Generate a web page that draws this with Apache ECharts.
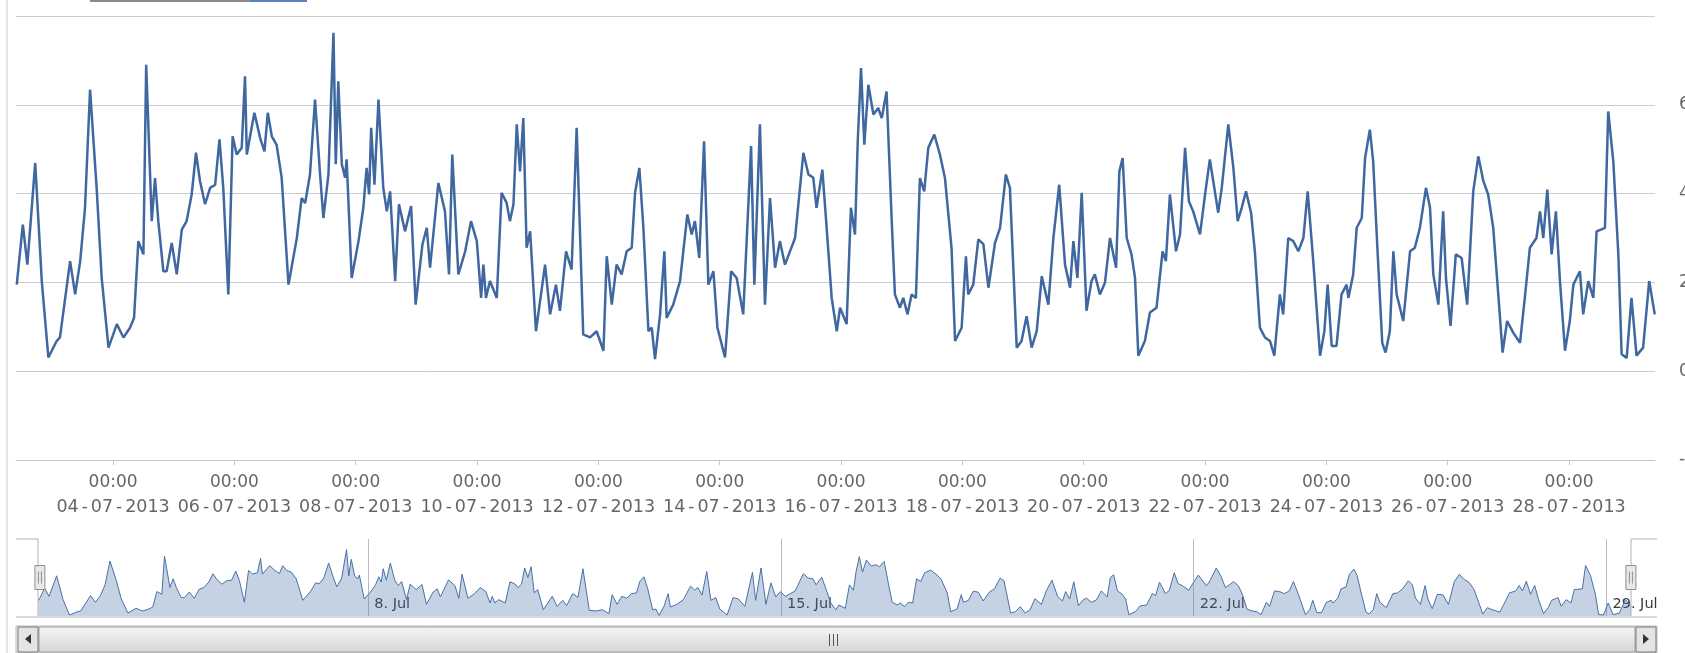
<!DOCTYPE html>
<html>
<head>
<meta charset="utf-8">
<title>Juli 2013</title>
<script src="https://cdn.jsdelivr.net/npm/echarts@6.0.0/dist/echarts.min.js"></script>
<style>
  html, body { margin: 0; padding: 0; background: #fff; }
  #chart { width: 1685px; height: 653px; }
</style>
</head>
<body>
<div id="chart"></div>
<script>
// x = hours since 02-07-2013 00:00, y = reading
const jul02to06 = [
  [9.9, 19.5], [12.3, 33], [14.1, 24], [17.2, 46.9], [19.8, 20.3], [22.4, 3.1], [25.7, 6.8], [27.0, 7.6],
  [31.0, 24.8], [33.0, 17.3], [35.0, 24.8], [36.9, 36.8], [38.9, 63.4], [41.5, 41.3], [43.5, 21], [46.2, 5.3],
  [49.5, 10.6], [52.1, 7.6], [54.7, 9.8], [56.3, 12], [58.0, 29.3], [60.0, 26.3], [61.1, 69], [63.3, 33.8],
  [64.6, 43.5], [65.9, 33.8], [67.9, 22.5], [69.2, 22.5], [71.2, 28.9], [73.2, 21.8], [75.2, 31.9], [77.1, 33.8],
  [79.1, 39.8], [80.8, 49.2], [82.4, 42.8], [84.4, 37.6], [86.4, 41.3], [88.4, 42], [90.1, 52.2], [91.6, 41.3],
  [93.6, 17.3], [95.3, 52.9], [96.9, 48.8], [98.9, 50.3], [100.2, 66.4]
]
const jul06to10 = [
  [100.9, 48.8], [103.9, 58.2], [106.2, 52.5], [107.9, 49.5], [109.2, 58.2], [110.8, 52.9], [112.7, 51], [114.7, 43.6],
  [117.4, 19.5], [120.7, 30], [122.6, 39], [124.0, 37.9], [125.9, 44.3], [127.9, 61.2], [129.9, 44.3], [131.2, 34.5],
  [133.2, 44.3], [135.2, 76.2], [136.1, 46.6], [137.1, 65.3], [138.5, 46.6], [139.8, 43.6], [140.4, 47.7], [142.4, 21],
  [145.1, 29.3], [147.0, 36.8], [148.3, 45.8], [149.3, 39.8], [150.1, 54.8], [151.4, 42], [153.0, 61.2], [154.9, 41.3],
  [156.3, 36], [157.6, 40.5], [159.6, 20.3], [161.1, 37.6], [163.5, 31.5], [165.9, 37.2], [167.7, 15], [170.4, 28.6],
  [172.1, 32.3], [173.4, 23.3], [176.7, 42.4], [179.3, 36], [180.9, 21.8], [182.2, 48.8], [184.6, 21.8], [187.3, 27],
  [189.6, 33.8], [191.9, 29.3], [193.6, 16.5]
]
const jul10to13 = [
  [194.5, 24], [195.5, 16.5], [197.1, 20.3], [199.8, 16.5], [201.7, 40.2], [203.7, 37.9], [205.0, 33.8], [206.4, 37.6],
  [207.7, 55.6], [209.0, 45], [210.3, 57], [211.6, 27.8], [213.0, 31.5], [215.3, 9], [218.9, 24], [220.9, 12.8],
  [223.2, 19.5], [224.8, 13.6], [227.2, 27], [229.4, 22.9], [231.4, 54.8], [234.0, 8.3], [236.7, 7.6], [239.3, 9],
  [242.0, 4.6], [243.3, 25.9], [245.3, 15], [247.2, 24], [249.2, 21.8], [251.2, 27], [253.2, 27.8], [254.5, 40.2],
  [256.2, 45.8], [257.8, 32.3], [259.8, 9], [261.1, 9.8], [262.4, 2.7], [264.4, 12.8], [266.1, 27], [267.0, 12],
  [269.6, 15], [272.3, 20.3], [275.2, 35.3], [276.9, 30.8], [278.2, 33.8], [279.9, 25.5], [281.8, 51.8], [283.5, 19.5],
  [285.5, 22.5], [287.1, 9.8]
]
const jul14to17 = [
  [290.1, 3.1], [292.5, 22.5], [294.7, 21], [297.3, 12.8], [300.4, 50.7], [301.7, 19.5], [303.9, 55.6], [305.9, 15],
  [307.9, 39], [309.9, 23.3], [311.8, 29.3], [313.8, 24], [315.8, 27], [317.8, 30], [321.1, 49.2], [323.1, 44.3],
  [325.0, 43.6], [326.3, 36.8], [328.6, 45.4], [330.3, 32.3], [332.3, 16.5], [334.3, 9], [335.6, 14.3], [338.2, 10.6],
  [339.9, 36.8], [341.5, 30.8], [342.6, 51.8], [343.9, 68.3], [345.2, 51], [346.8, 64.5], [348.8, 57.8], [350.7, 59.3],
  [352.1, 57], [354.0, 63], [356.0, 34.5], [357.3, 17.3], [359.3, 14.3], [360.6, 16.5], [362.3, 12.8], [363.9, 17.3],
  [365.6, 16.5], [367.2, 43.5], [368.9, 40.5], [370.5, 50.3], [372.9, 53.3], [375.1, 48.8], [377.1, 43.5], [379.7, 27.8]
]
const jul17to21 = [
  [381.1, 6.8], [383.7, 9.8], [385.4, 25.9], [386.3, 17.3], [388.3, 19.5], [390.3, 29.7], [392.3, 28.6], [394.3, 18.8],
  [396.9, 28.9], [398.9, 32.3], [401.2, 44.3], [402.8, 41.3], [405.5, 5.3], [407.4, 6.8], [409.4, 12.4], [411.4, 5.3],
  [413.4, 9], [415.4, 21.4], [418.0, 15], [420.0, 30], [422.3, 42], [424.6, 24], [426.6, 18.8], [427.9, 29.3],
  [429.5, 21], [431.2, 40.2], [433.1, 13.6], [435.1, 20.3], [436.4, 21.8], [438.4, 17.3], [440.4, 19.9], [442.4, 30],
  [444.8, 23.3], [446.1, 45], [447.4, 48], [449.0, 30], [450.9, 26.3], [452.3, 21], [453.6, 3.5], [456.2, 6.8],
  [458.2, 13.2], [460.8, 14.3], [463.2, 27], [464.5, 24.8], [466.1, 39.8], [468.5, 27], [470.1, 30.8], [472.1, 50.3]
]
const jul21to25 = [
  [473.6, 38.3], [475.3, 36], [478.0, 30.8], [480.0, 39.8], [481.9, 47.7], [485.2, 35.7], [486.6, 41.3], [489.2, 55.6],
  [491.2, 45.8], [492.9, 33.8], [494.5, 36.8], [496.2, 40.5], [498.2, 35.7], [499.7, 27], [501.7, 9.8], [503.7, 7.6],
  [505.7, 6.8], [507.4, 3.5], [509.6, 17.3], [510.9, 12.8], [512.9, 30], [514.9, 29.3], [516.9, 27], [518.9, 30],
  [520.6, 40.5], [522.8, 24.8], [525.5, 3.5], [527.2, 9], [528.5, 19.5], [530.1, 5.7], [532.0, 5.7], [534.0, 17.3],
  [536.0, 19.5], [536.7, 16.5], [538.6, 21.8], [540.0, 32.3], [542.0, 34.5], [543.3, 48], [545.2, 54.4], [546.5, 47.3],
  [548.3, 26.3], [550.1, 6.4], [551.4, 4.2], [553.1, 9], [554.5, 27], [555.8, 17.3], [558.4, 11.3], [561.1, 27],
  [563.0, 27.8], [565.0, 32.3]
]
const jul25to29 = [
  [567.4, 41.3], [569.0, 36.8], [570.3, 21.8], [572.3, 15], [574.2, 36], [575.3, 21], [577.1, 10.2], [579.2, 26.3],
  [581.5, 25.5], [583.7, 15], [586.1, 40.5], [588.1, 48.4], [590.1, 42.8], [592.0, 39.8], [594.0, 32.3], [596.0, 17.3],
  [597.7, 4.2], [599.5, 11.3], [601.9, 8.7], [604.6, 6.4], [606.5, 16.5], [608.5, 27.8], [611.1, 30], [612.5, 36],
  [613.8, 30], [615.4, 40.9], [617.1, 26.3], [618.8, 36], [620.4, 20.3], [622.4, 4.6], [624.3, 11.3], [625.7, 19.5],
  [628.3, 22.5], [629.6, 12.8], [631.6, 20.3], [633.6, 16.5], [634.9, 31.5], [638.2, 32.3], [639.5, 58.5], [641.5, 47.3],
  [643.5, 26.3], [644.8, 3.8], [646.8, 3], [648.7, 16.5], [650.7, 3.5], [653.3, 5.3], [655.7, 20.3], [657.9, 12.8]
]

const mainTicks = [48, 96, 144, 192, 240, 288, 336, 384, 432, 480, 528, 576, 624]
const mainTickLabels = ['04-07-2013', '06-07-2013', '08-07-2013', '10-07-2013', '12-07-2013', '14-07-2013',
  '16-07-2013', '18-07-2013', '20-07-2013', '22-07-2013', '24-07-2013', '26-07-2013', '28-07-2013']
const navTicks = [144, 312, 480, 648]
const navTickLabels = ['8. Jul', '15. Jul', '22. Jul', '29. Jul']

const points = [].concat(jul02to06, jul06to10, jul10to13, jul14to17, jul17to21, jul21to25, jul25to29)

function lookup(ticks, labels, v) {
  const i = ticks.findIndex(t => Math.abs(t - v) < 0.5)
  return i < 0 ? '' : labels[i]
}

// date text drawn with a little air round the dashes, like the original
function dateLabel(v) {
  const parts = lookup(mainTicks, mainTickLabels, v).split('-')
  return '{t|00:00}\n' + parts.map(p => '{d|' + p + '}').join('{h|-}')
}

const txt = { color: '#666', fontSize: 17, fontFamily: 'DejaVu Sans', lineHeight: 25 }

const myChart = echarts.init(document.getElementById('chart'))
const option = {
  animation: false,
  backgroundColor: '#ffffff',
  textStyle: { fontFamily: 'DejaVu Sans' },
  grid: [
    { left: 16, top: 16, width: 1639, height: 444, outerBoundsMode: 'none', containLabel: false },
    { left: 38, top: 539, width: 1593, height: 77, outerBoundsMode: 'none', containLabel: false }
  ],
  xAxis: [
    {
      type: 'value', gridIndex: 0, min: 9.6, max: 658,
      axisLine: { onZero: false, lineStyle: { color: '#c0c8d4' } },
      axisTick: { customValues: mainTicks, length: 5, lineStyle: { color: '#c0c8d4' } },
      axisLabel: {
        customValues: mainTicks, margin: 10, formatter: dateLabel,
        rich: {
          t: txt,
          d: Object.assign({}, txt, { fontSize: 17.5 }),
          h: Object.assign({}, txt, { padding: [0, 3, 0, 3] })
        }
      },
      splitLine: { show: false }
    },
    {
      type: 'value', gridIndex: 1, min: 9.6, max: 658,
      axisLine: { show: false, onZero: false },
      axisTick: { show: false, customValues: navTicks },
      axisLabel: {
        customValues: navTicks, inside: true, align: 'left', padding: [0, 0, 0, 6], margin: 4,
        color: '#3a3a3a', fontSize: 14.5,
        formatter: v => lookup(navTicks, navTickLabels, v)
      },
      splitLine: { show: true, lineStyle: { color: '#bdbdbd' } }
    }
  ],
  yAxis: [
    {
      type: 'value', gridIndex: 0, position: 'right', min: -20, max: 80, interval: 20,
      axisLine: { show: false }, axisTick: { show: false },
      axisLabel: { margin: 24, color: '#666', fontSize: 17, showMaxLabel: false },
      splitLine: { lineStyle: { color: '#cccccc' } }
    },
    { type: 'value', gridIndex: 1, min: 2, max: 88, show: false }
  ],
  dataZoom: [{
    type: 'slider', xAxisIndex: [0], start: 0, end: 100,
    left: 38, right: 54, top: 539, height: 77,
    showDetail: false, showDataShadow: false, brushSelect: false, moveHandleSize: 0,
    borderColor: 'transparent', backgroundColor: 'rgba(0,0,0,0)', fillerColor: 'rgba(0,0,0,0)',
    handleIcon: 'path://M0,0 L10,0 L10,24 L0,24 Z M3.5,6 L3.5,18 M6.5,6 L6.5,18',
    handleSize: 24,
    handleStyle: { color: '#ebe7e8', borderColor: '#8f8f8f', borderWidth: 1 }
  }],
  series: [
    {
      type: 'line', xAxisIndex: 0, yAxisIndex: 0, data: points, symbol: 'none', silent: true,
      lineStyle: { color: '#3f67a0', width: 2.5 }
    },
    {
      type: 'line', xAxisIndex: 1, yAxisIndex: 1, data: points, symbol: 'none', silent: true,
      lineStyle: { color: '#4a70a6', width: 1 },
      areaStyle: { color: 'rgba(69,114,167,0.45)', origin: 'start' }
    }
  ],
  graphic: [
    // range selector remains at the very top
    { type: 'rect', shape: { x: 90, y: 0, width: 160, height: 2 }, style: { fill: '#8a8a8a' } },
    { type: 'rect', shape: { x: 250, y: 0, width: 57, height: 2 }, style: { fill: '#5b82bf' } },
    { type: 'line', shape: { x1: 7, y1: 0, x2: 7, y2: 653 }, style: { stroke: '#e6e6e6', lineWidth: 2 } },
    // navigator outline
    { type: 'polyline', shape: { points: [[16, 539], [38, 539], [38, 616]] }, style: { stroke: '#b2b1b6', fill: null } },
    { type: 'polyline', shape: { points: [[1631, 616], [1631, 539], [1657, 539]] }, style: { stroke: '#b2b1b6', fill: null } },
    { type: 'line', shape: { x1: 16, y1: 617, x2: 1657, y2: 617 }, style: { stroke: '#b2b1b6' } },
    // scrollbar
    { type: 'rect', shape: { x: 16, y: 626, width: 1641, height: 27 }, style: { fill: '#eeeeee', stroke: '#bbbbbb' } },
    {
      type: 'rect', shape: { x: 39, y: 627, width: 1596, height: 25 },
      style: {
        stroke: '#a0a0a0',
        fill: new echarts.graphic.LinearGradient(0, 0, 0, 1, [
          { offset: 0, color: '#f6f4f4' }, { offset: 1, color: '#d6d4d4' }
        ])
      }
    },
    { type: 'rect', shape: { x: 18, y: 627, width: 20, height: 25 }, style: { fill: '#e4e4e4', stroke: '#777' } },
    { type: 'polygon', shape: { points: [[31, 634], [31, 644], [25, 639]] }, style: { fill: '#333' } },
    { type: 'rect', shape: { x: 1636, y: 627, width: 20, height: 25 }, style: { fill: '#e4e4e4', stroke: '#777' } },
    { type: 'polygon', shape: { points: [[1643, 634], [1643, 644], [1649, 639]] }, style: { fill: '#333' } },
    { type: 'line', shape: { x1: 829.5, y1: 634, x2: 829.5, y2: 646 }, style: { stroke: '#555' } },
    { type: 'line', shape: { x1: 833.5, y1: 634, x2: 833.5, y2: 646 }, style: { stroke: '#555' } },
    { type: 'line', shape: { x1: 837.5, y1: 634, x2: 837.5, y2: 646 }, style: { stroke: '#555' } }
  ]
}
myChart.setOption(option)
</script>
</body>
</html>
